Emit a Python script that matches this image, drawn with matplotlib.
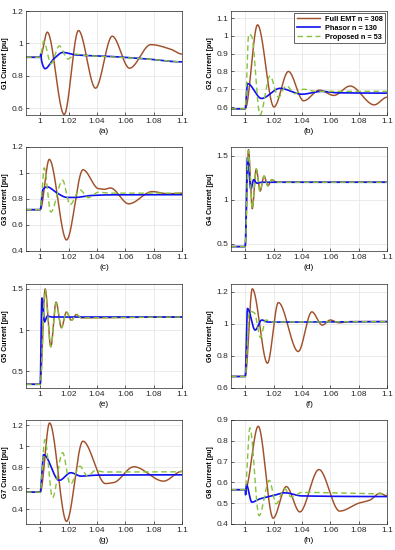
import numpy as np
import matplotlib
matplotlib.use("Agg")
import matplotlib.pyplot as plt

plt.rcParams['font.family'] = ['Liberation Sans', 'DejaVu Sans']

# ---------------- data ----------------
# panel a (G1)
a_emt_t = [0.99, 1.0, 1.005, 1.0169, 1.027, 1.039, 1.0508, 1.063, 1.078, 1.092, 1.1]
a_emt_v = [0.915, 0.915, 1.07, 0.563, 1.08, 0.725, 1.045, 0.848, 0.993, 0.965, 0.935]
a_pha_t = [0.99, 1.0, 1.0004, 1.0008, 1.0035, 1.0095, 1.016, 1.025, 1.05, 1.075, 1.1]
a_pha_v = [0.915, 0.915, 0.935, 0.9, 0.845, 0.905, 0.945, 0.93, 0.92, 0.905, 0.887]
a_pro_t = [0.99, 1.0, 1.0025, 1.0075, 1.0135, 1.0195, 1.025, 1.03, 1.05, 1.075, 1.1]
a_pro_v = [0.915, 0.915, 1.015, 0.875, 0.985, 0.905, 0.935, 0.928, 0.918, 0.905, 0.887]

# panel b (G2)
b_emt_t = [0.99, 1.0, 1.0087, 1.0203, 1.0305, 1.0412, 1.0525, 1.0625, 1.074, 1.091, 1.1]
b_emt_v = [0.59, 0.59, 1.062, 0.6, 0.8, 0.635, 0.695, 0.665, 0.718, 0.612, 0.655]
b_pha_t = [0.99, 1.0, 1.0016, 1.0115, 1.0245, 1.04, 1.054, 1.065, 1.1]
b_pha_v = [0.59, 0.59, 0.732, 0.648, 0.705, 0.672, 0.688, 0.68, 0.678]
b_pro_t = [0.99, 1.0, 1.0025, 1.0045, 1.0105, 1.0175, 1.0235, 1.029, 1.035, 1.041, 1.05, 1.1]
b_pro_v = [0.59, 0.59, 1.01, 1.0, 0.555, 0.775, 0.655, 0.72, 0.675, 0.70, 0.688, 0.688]

# panel c (G3)
c_emt_t = [0.99, 1.0, 1.0064, 1.0186, 1.0302, 1.041, 1.0455, 1.0495, 1.0625, 1.079, 1.09, 1.1]
c_emt_v = [0.718, 0.718, 1.105, 0.485, 1.025, 0.88, 0.875, 0.885, 0.763, 0.857, 0.84, 0.845]
c_pha_t = [0.99, 1.0, 1.002, 1.005, 1.012, 1.019, 1.025, 1.035, 1.05, 1.1]
c_pha_v = [0.718, 0.718, 0.875, 0.893, 0.845, 0.812, 0.812, 0.826, 0.832, 0.833]
c_pro_t = [0.99, 1.0, 1.0028, 1.0075, 1.0158, 1.021, 1.028, 1.034, 1.041, 1.05, 1.1]
c_pro_v = [0.718, 0.718, 1.04, 0.70, 0.945, 0.756, 0.87, 0.81, 0.852, 0.845, 0.845]

# panel d (G4)
d_emt_t = [0.99, 1.0, 1.0023, 1.005, 1.0078, 1.0105, 1.0133, 1.016, 1.0188, 1.022, 1.1]
d_emt_v = [0.47, 0.47, 1.57, 0.9, 1.35, 1.1, 1.27, 1.16, 1.23, 1.2, 1.2]
d_pha_t = [0.99, 1.0, 1.0016, 1.004, 1.006, 1.008, 1.012, 1.1]
d_pha_v = [0.47, 0.47, 1.48, 1.12, 1.23, 1.19, 1.2, 1.2]
d_pro_t = [0.99, 1.0, 1.0023, 1.005, 1.0078, 1.0105, 1.0133, 1.016, 1.0188, 1.022, 1.1]
d_pro_v = [0.47, 0.47, 1.56, 0.9, 1.35, 1.1, 1.27, 1.16, 1.23, 1.2, 1.2]

# panel e (G5)
e_emt_t = [0.99, 1.0, 1.0035, 1.0075, 1.0112, 1.015, 1.0185, 1.022, 1.0255, 1.029, 1.1]
e_emt_v = [0.345, 0.345, 1.5, 0.8, 1.34, 1.03, 1.22, 1.12, 1.19, 1.15, 1.16]
e_pha_t = [0.99, 1.0, 1.0012, 1.003, 1.005, 1.008, 1.1]
e_pha_v = [0.345, 0.345, 1.39, 1.1, 1.17, 1.16, 1.16]
e_pro_t = [0.99, 1.0, 1.0035, 1.0075, 1.0112, 1.015, 1.0185, 1.022, 1.0255, 1.029, 1.1]
e_pro_v = [0.345, 0.345, 1.49, 0.8, 1.33, 1.03, 1.22, 1.12, 1.19, 1.15, 1.16]

# panel f (G6)
f_emt_t = [0.99, 1.0, 1.005, 1.0157, 1.0234, 1.0374, 1.047, 1.0544, 1.06, 1.066, 1.075, 1.1]
f_emt_v = [0.672, 0.672, 1.22, 0.755, 1.134, 0.828, 1.076, 0.993, 1.025, 1.008, 1.015, 1.015]
f_pha_t = [0.99, 1.0, 1.0016, 1.007, 1.0117, 1.016, 1.03, 1.1]
f_pha_v = [0.672, 0.672, 1.097, 0.962, 1.025, 1.012, 1.012, 1.015]
f_pro_t = [0.99, 1.0, 1.003, 1.0065, 1.0108, 1.0145, 1.02, 1.1]
f_pro_v = [0.672, 0.672, 1.08, 1.07, 0.915, 1.025, 1.012, 1.015]

# panel g (G7)
g_emt_t = [0.99, 1.0, 1.0066, 1.0186, 1.0301, 1.046, 1.052, 1.066, 1.087, 1.1]
g_emt_v = [0.563, 0.563, 1.222, 0.285, 1.048, 0.645, 0.655, 0.805, 0.668, 0.762]
g_pha_t = [0.99, 1.0, 1.0024, 1.0134, 1.0216, 1.0287, 1.04, 1.1]
g_pha_v = [0.563, 0.563, 0.92, 0.675, 0.748, 0.716, 0.725, 0.728]
g_pro_t = [0.99, 1.0, 1.0033, 1.0087, 1.0158, 1.0212, 1.028, 1.0334, 1.039, 1.045, 1.1]
g_pro_v = [0.563, 0.563, 1.064, 0.51, 0.94, 0.637, 0.81, 0.716, 0.77, 0.755, 0.757]

# panel h (G8)
h_emt_t = [0.99, 1.0, 1.0092, 1.0197, 1.029, 1.0385, 1.052, 1.0666, 1.08, 1.088, 1.095, 1.1]
h_emt_v = [0.565, 0.565, 0.87, 0.428, 0.58, 0.458, 0.662, 0.462, 0.5, 0.515, 0.548, 0.535]
h_pha_t = [0.99, 1.0, 1.0003, 1.0008, 1.0047, 1.01, 1.02, 1.028, 1.04, 1.1]
h_pha_v = [0.565, 0.565, 0.54, 0.59, 0.505, 0.52, 0.537, 0.55, 0.535, 0.532]
h_pro_t = [0.99, 1.0, 1.0033, 1.0098, 1.017, 1.0218, 1.0277, 1.0325, 1.04, 1.1]
h_pro_v = [0.565, 0.565, 0.862, 0.44, 0.61, 0.497, 0.57, 0.53, 0.552, 0.545]

panel_letters = ['a', 'b', 'c', 'd', 'e', 'f', 'g', 'h']
ylabels = ['G1 Current [pu]', 'G2 Current [pu]', 'G3 Current [pu]', 'G4 Current [pu]',
           'G5 Current [pu]', 'G6 Current [pu]', 'G7 Current [pu]', 'G8 Current [pu]']
ylims = [(0.56, 1.2), (0.555, 1.14), (0.4, 1.2), (0.42, 1.6),
         (0.3, 1.56), (0.6, 1.25), (0.26, 1.25), (0.4, 0.9)]
yticks = [[0.6, 0.8, 1.0, 1.2], [0.6, 0.7, 0.8, 0.9, 1.0, 1.1], [0.4, 0.6, 0.8, 1.0, 1.2],
          [0.5, 1.0, 1.5], [0.5, 1.0, 1.5], [0.6, 0.8, 1.0, 1.2], [0.4, 0.6, 0.8, 1.0, 1.2],
          [0.4, 0.5, 0.6, 0.7, 0.8, 0.9]]
xticks = [1.0, 1.02, 1.04, 1.06, 1.08, 1.1]
xtick_labels = ['1', '1.02', '1.04', '1.06', '1.08', '1.1']
legend_labels = ['Full EMT n = 308', 'Phasor n = 130', 'Proposed n = 53']

series = {
    'a': (a_emt_t, a_emt_v, a_pha_t, a_pha_v, a_pro_t, a_pro_v),
    'b': (b_emt_t, b_emt_v, b_pha_t, b_pha_v, b_pro_t, b_pro_v),
    'c': (c_emt_t, c_emt_v, c_pha_t, c_pha_v, c_pro_t, c_pro_v),
    'd': (d_emt_t, d_emt_v, d_pha_t, d_pha_v, d_pro_t, d_pro_v),
    'e': (e_emt_t, e_emt_v, e_pha_t, e_pha_v, e_pro_t, e_pro_v),
    'f': (f_emt_t, f_emt_v, f_pha_t, f_pha_v, f_pro_t, f_pro_v),
    'g': (g_emt_t, g_emt_v, g_pha_t, g_pha_v, g_pro_t, g_pro_v),
    'h': (h_emt_t, h_emt_v, h_pha_t, h_pha_v, h_pro_t, h_pro_v),
}


def pchip_render(t, v, n=1200):
    """Shape-preserving cubic rendering of the read points (Fritsch-Carlson)."""
    x = np.asarray(t, float)
    y = np.asarray(v, float)
    h = np.diff(x)
    dl = np.diff(y) / h
    d = np.zeros_like(y)
    for k in range(1, len(x) - 1):
        if dl[k - 1] * dl[k] > 0:
            w1 = 2 * h[k] + h[k - 1]
            w2 = h[k] + 2 * h[k - 1]
            d[k] = (w1 + w2) / (w1 / dl[k - 1] + w2 / dl[k])
    xs = np.linspace(x[0], x[-1], n)
    idx = np.clip(np.searchsorted(x, xs) - 1, 0, len(x) - 2)
    hh = h[idx]
    s = (xs - x[idx]) / hh
    h00 = 2 * s**3 - 3 * s**2 + 1
    h10 = s**3 - 2 * s**2 + s
    h01 = -2 * s**3 + 3 * s**2
    h11 = s**3 - s**2
    ys = h00 * y[idx] + h10 * hh * d[idx] + h01 * y[idx + 1] + h11 * hh * d[idx + 1]
    return xs, ys


c_emt = '#A0502A'
c_pha = '#1010F0'
c_pro = '#86C23A'

fig = plt.figure(figsize=(3.95, 5.5), dpi=100)
lefts = [26 / 395, 231 / 395]
w = 156 / 395
bottoms = [1 - 115 / 550, 1 - 251 / 550, 1 - 388 / 550, 1 - 524 / 550]
hgt = 104 / 550

for i, letter in enumerate(panel_letters):
    row, col = divmod(i, 2)
    ax = fig.add_axes([lefts[col], bottoms[row], w, hgt])
    et, ev, pt, pv, rt, rv = series[letter]
    l1, = ax.plot(*pchip_render(et, ev), color=c_emt, lw=1.05, label=legend_labels[0])
    l2, = ax.plot(*pchip_render(pt, pv), color=c_pha, lw=1.2, label=legend_labels[1])
    l3, = ax.plot(*pchip_render(rt, rv), color=c_pro, lw=1.0, ls=(0, (4, 2.5)), label=legend_labels[2])
    ax.set_xlim(0.99, 1.1)
    ax.set_ylim(*ylims[i])
    ax.set_xticks(xticks)
    ax.set_xticklabels(xtick_labels)
    ax.set_yticks(yticks[i])
    ax.set_yticklabels(['%g' % y for y in yticks[i]])
    ax.tick_params(direction='in', length=2, width=0.5, labelsize=6, pad=2, colors='#262626')
    ax.grid(True, color='#e3e3e3', lw=0.5)
    ax.set_axisbelow(True)
    for sp in ax.spines.values():
        sp.set_color('#262626')
        sp.set_linewidth(0.5)
    ax.set_ylabel(ylabels[i], fontsize=5, fontweight='bold', labelpad=2)
    ax.text(0.5, -0.155, '(%s)' % letter, transform=ax.transAxes, ha='center', va='center', fontsize=6)
    if letter == 'b':
        leg = ax.legend(handles=[l1, l2, l3], loc='upper right',
                        prop={'weight': 'bold', 'size': 5.3}, handlelength=3.2,
                        fancybox=False, framealpha=1, edgecolor='#262626',
                        borderaxespad=0.25, borderpad=0.35, labelspacing=0.25, handletextpad=0.6)
        leg.get_frame().set_linewidth(0.5)

fig.savefig('out.png', dpi=100)
